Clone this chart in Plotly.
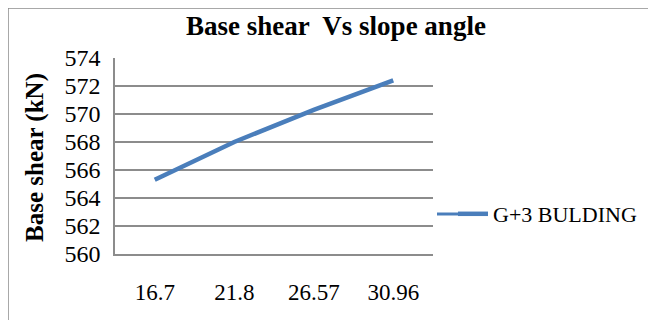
import plotly.graph_objects as go

categories = ["16.7", "21.8", "26.57", "30.96"]
base_shear = [565.3, 568.0, 570.3, 572.4]
y_ticks = [560, 562, 564, 566, 568, 570, 572, 574]
series_name = "G+3 BULDING"

OFF = 8  # browser body margin
W, H = 656 - OFF, 320 - OFF
L, R, T, B = 115 - OFF, 433 - OFF, 58 - OFF, 254 - OFF


def px(xp):
    return (xp - OFF - L) / (R - L)


def py(yp):
    return (B - (yp - OFF)) / (B - T)


fig = go.Figure()
fig.add_trace(go.Scatter(
    x=categories, y=base_shear, mode="lines", name=series_name,
    line=dict(color="#4a7ebb", width=4.5),
))

font = "'Liberation Serif', 'Times New Roman', serif"
grey = "#8c8c8c"
fig.update_layout(
    width=W, height=H,
    margin=dict(l=L, r=W - R, t=T, b=H - B, pad=0, autoexpand=False),
    paper_bgcolor="white", plot_bgcolor="white",
    title=dict(text="<b>Base shear  Vs slope angle</b>", x=(336 - OFF) / W, xanchor="center",
               y=1 - (26 - OFF) / H, yanchor="middle",
               font=dict(family=font, size=27, color="black")),
    showlegend=True,
    legend=dict(x=px(453), xanchor="left", y=py(214), yanchor="middle",
                font=dict(family=font, size=22, color="black"), bgcolor="rgba(0,0,0,0)",
                itemwidth=30),
    xaxis=dict(type="category", range=[-0.5, 3.5], showgrid=False, showline=True,
               linecolor=grey, linewidth=1.5,
               ticks="", tickfont=dict(family=font, size=23, color="black"),
               ticklabelstandoff=17, zeroline=False),
    yaxis=dict(range=[560, 574], tickvals=y_ticks, showgrid=True, gridcolor=grey, gridwidth=1.5,
               showline=True, linecolor=grey, linewidth=1.5, ticks="",
               tickfont=dict(family=font, size=24, color="black"), ticklabelstandoff=8,
               zeroline=False),
)

# y-axis title
fig.add_annotation(text="<b>Base shear (kN)</b>", textangle=-90, xref="paper", yref="paper",
                   x=px(35), y=py(158), xanchor="center", yanchor="middle", showarrow=False,
                   font=dict(family=font, size=25, color="black"))

# extend legend line to match reference length
fig.add_shape(type="line", xref="paper", yref="paper", x0=px(437), x1=px(462),
              y0=py(214), y1=py(214), line=dict(color="#4a7ebb", width=3))

# outer chart border
fig.add_shape(type="rect", xref="paper", yref="paper",
              x0=px(8), x1=px(700), y0=py(400), y1=py(8),
              line=dict(color=grey, width=1.5), fillcolor="rgba(0,0,0,0)", layer="below")

fig.write_html("out.html")
